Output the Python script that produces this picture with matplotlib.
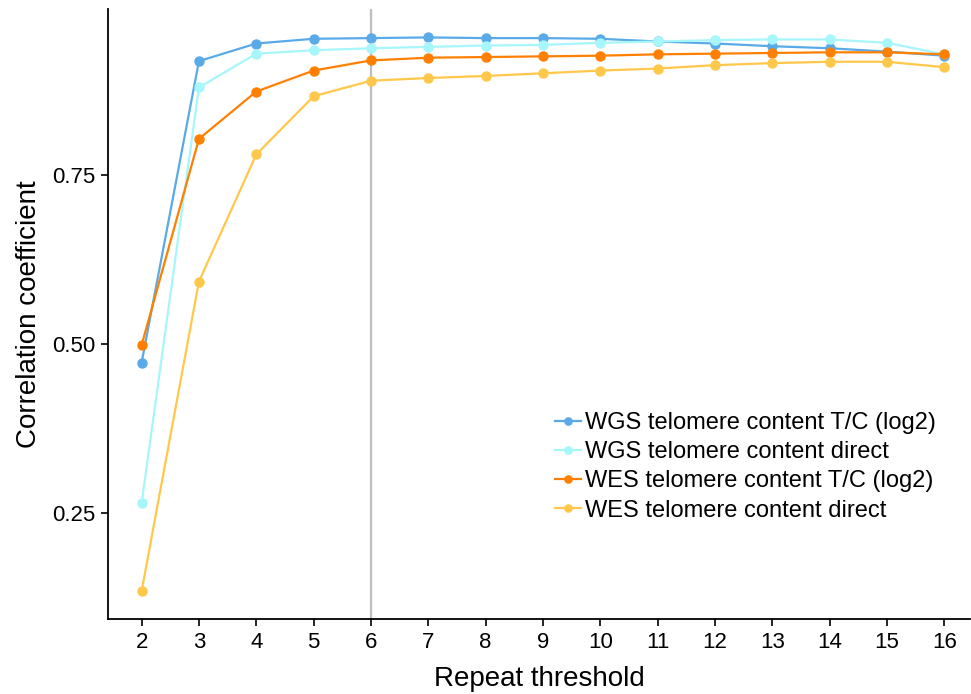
import matplotlib
matplotlib.use("Agg")
import matplotlib.pyplot as plt

plt.rcParams['font.family'] = ['Liberation Sans', 'DejaVu Sans']

thresholds = list(range(2, 17))
wgs_tc = [0.472, 0.918, 0.944, 0.951, 0.952, 0.953, 0.952, 0.952, 0.951, 0.947,
          0.944, 0.940, 0.937, 0.932, 0.926]
wgs_direct = [0.264, 0.879, 0.929, 0.934, 0.937, 0.939, 0.941, 0.942, 0.945, 0.947,
              0.949, 0.950, 0.950, 0.945, 0.928]
wes_tc = [0.498, 0.803, 0.873, 0.904, 0.919, 0.923, 0.924, 0.925, 0.926, 0.928,
          0.929, 0.930, 0.931, 0.931, 0.928]
wes_direct = [0.134, 0.592, 0.780, 0.866, 0.889, 0.893, 0.896, 0.900, 0.904, 0.907,
              0.912, 0.915, 0.917, 0.917, 0.909]

series = [
    ("WGS telomere content T/C (log2)", wgs_tc, "#5aaae8"),
    ("WGS telomere content direct", wgs_direct, "#a6f6fb"),
    ("WES telomere content T/C (log2)", wes_tc, "#ff8000"),
    ("WES telomere content direct", wes_direct, "#ffc84a"),
]

fig = plt.figure(figsize=(9.71, 6.94), dpi=100)
ax = fig.add_axes([0.111, 0.108, 0.888, 0.879])

ax.axvline(6, color="#bdbdbd", lw=1.6, zorder=1)
for name, vals, col in series:
    ax.plot(thresholds, vals, color=col, lw=1.6, marker="o", ms=6.5, label=name, zorder=3)

ax.set_xlim(1.41, 16.45)
ax.set_ylim(0.093, 0.995)
ax.set_xticks(thresholds)
ax.set_yticks([0.25, 0.50, 0.75])
ax.set_yticklabels(["0.25", "0.50", "0.75"])
ax.tick_params(labelsize=16, length=5, width=1.2, color="black", pad=4)
for s in ["top", "right"]:
    ax.spines[s].set_visible(False)
for s in ["left", "bottom"]:
    ax.spines[s].set_linewidth(1.3)

ax.set_xlabel("Repeat threshold", fontsize=20, labelpad=10)
ax.set_ylabel("Correlation coefficient", fontsize=20, labelpad=7)

ax.legend(loc="lower right", bbox_to_anchor=(0.985, 0.125), frameon=False, fontsize=17,
          handlelength=1.1, handletextpad=0.15, labelspacing=0.3, markerscale=0.8)

fig.savefig("out.png", dpi=100)
